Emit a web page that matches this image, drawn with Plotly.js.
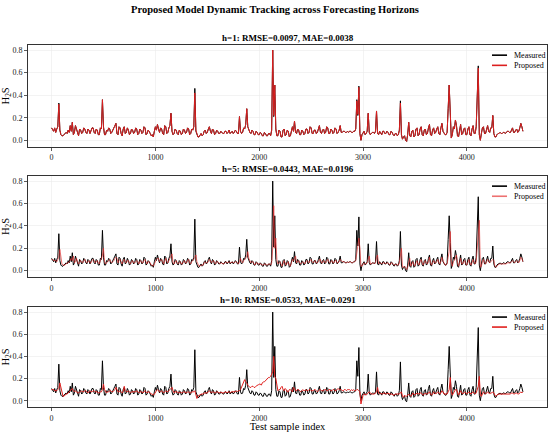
<!DOCTYPE html>
<html>
<head>
<meta charset="utf-8">
<script src="https://cdn.plot.ly/plotly-3.0.1.min.js"></script>
<style>html,body{margin:0;padding:0;background:#fff;}#chart{width:550px;height:432px;}</style>
</head>
<body>
<div id="chart"></div>
<script>
// Readings stored for every 10th test sample
const sampleStep = 10;

const measured = [
0.11,0.09,0.08,0.11,0.07,0.10,0.12,0.33,0.09,0.05,0.04,0.04,0.05,0.06,0.07,0.06,0.09,0.07,0.13,0.08,
0.16,0.05,0.07,0.13,0.10,0.05,0.04,0.10,0.09,0.06,0.07,0.11,0.10,0.07,0.06,0.10,0.09,0.06,0.08,0.11,
0.11,0.07,0.06,0.10,0.09,0.05,0.05,0.11,0.10,0.36,0.12,0.05,0.05,0.09,0.08,0.11,0.10,0.06,0.07,0.10,
0.11,0.13,0.15,0.06,0.05,0.12,0.11,0.06,0.04,0.10,0.12,0.06,0.07,0.11,0.09,0.05,0.06,0.10,0.09,0.06,
0.07,0.11,0.10,0.05,0.06,0.10,0.09,0.06,0.07,0.12,0.11,0.05,0.06,0.09,0.08,0.06,0.04,0.05,0.03,0.08,
0.12,0.09,0.14,0.10,0.07,0.11,0.10,0.06,0.05,0.13,0.12,0.06,0.07,0.11,0.13,0.24,0.08,0.05,0.06,0.10,
0.09,0.06,0.05,0.09,0.08,0.05,0.06,0.10,0.09,0.06,0.07,0.11,0.10,0.05,0.06,0.10,0.09,0.12,0.46,0.08,
0.05,0.03,0.03,0.05,0.06,0.04,0.05,0.08,0.09,0.06,0.07,0.10,0.12,0.08,0.06,0.10,0.09,0.05,0.06,0.09,
0.08,0.06,0.06,0.08,0.07,0.06,0.06,0.08,0.08,0.06,0.07,0.09,0.06,0.07,0.08,0.06,0.07,0.09,0.08,0.06,
0.06,0.21,0.08,0.06,0.07,0.11,0.10,0.14,0.28,0.12,0.09,0.07,0.06,0.09,0.08,0.05,0.05,0.08,0.07,0.05,
0.05,0.07,0.06,0.04,0.04,0.07,0.06,0.04,0.04,0.06,0.06,0.04,0.09,0.80,0.21,0.49,0.10,0.04,0.04,0.09,
0.08,0.03,0.03,0.09,0.10,0.04,0.05,0.09,0.08,0.03,0.04,0.10,0.12,0.08,0.17,0.07,0.06,0.10,0.09,0.05,
0.05,0.09,0.08,0.05,0.06,0.10,0.10,0.06,0.07,0.12,0.11,0.06,0.06,0.09,0.09,0.06,0.07,0.10,0.13,0.07,
0.06,0.09,0.10,0.06,0.07,0.12,0.11,0.06,0.06,0.10,0.09,0.06,0.07,0.11,0.10,0.06,0.07,0.09,0.13,0.07,
0.07,0.08,0.08,0.07,0.07,0.08,0.07,0.08,0.08,0.07,0.07,0.08,0.08,0.10,0.36,0.22,0.48,0.06,0.00,0.05,
0.07,0.08,0.05,0.06,0.08,0.24,0.07,0.05,0.06,0.07,0.07,0.06,0.08,0.26,0.06,0.05,0.08,0.06,0.05,0.08,
0.08,0.06,0.06,0.08,0.07,0.05,0.05,0.08,0.07,0.05,0.04,0.06,0.06,0.04,0.05,0.09,0.35,0.05,0.01,0.03,
0.04,0.00,-0.01,0.05,0.16,0.04,0.03,0.08,0.09,0.03,0.04,0.10,0.11,0.04,0.05,0.10,0.12,0.05,0.04,0.09,
0.10,0.05,0.06,0.11,0.14,0.05,0.04,0.09,0.11,0.06,0.07,0.10,0.12,0.06,0.05,0.11,0.15,0.08,0.06,0.05,
0.05,0.07,0.28,0.49,0.25,0.02,0.05,0.12,0.10,0.18,0.13,0.04,0.03,0.09,0.14,0.05,0.06,0.10,0.11,0.05,
0.05,0.10,0.12,0.05,0.04,0.10,0.13,0.06,0.06,0.12,0.54,0.66,0.05,0.00,0.06,0.11,0.12,0.06,0.06,0.11,
0.13,0.08,0.07,0.11,0.11,0.22,0.06,0.03,0.03,0.05,0.06,0.06,0.07,0.06,0.06,0.07,0.07,0.06,0.07,0.08,
0.08,0.07,0.07,0.09,0.11,0.07,0.07,0.09,0.10,0.07,0.08,0.11,0.15,0.12,0.08
];

const proposedH1 = [
0.11,0.09,0.08,0.11,0.07,0.10,0.12,0.32,0.09,0.05,0.04,0.04,0.05,0.06,0.07,0.06,0.09,0.07,0.13,0.08,
0.16,0.05,0.07,0.13,0.10,0.05,0.04,0.10,0.09,0.06,0.07,0.11,0.10,0.07,0.06,0.10,0.09,0.06,0.08,0.11,
0.11,0.07,0.06,0.10,0.09,0.05,0.05,0.11,0.10,0.36,0.12,0.05,0.05,0.09,0.08,0.11,0.10,0.06,0.07,0.10,
0.11,0.13,0.15,0.06,0.05,0.12,0.11,0.06,0.04,0.10,0.12,0.06,0.07,0.11,0.09,0.05,0.06,0.10,0.09,0.06,
0.07,0.11,0.10,0.05,0.06,0.10,0.09,0.06,0.07,0.12,0.11,0.05,0.06,0.09,0.08,0.06,0.04,0.05,0.03,0.08,
0.12,0.09,0.14,0.10,0.07,0.11,0.10,0.06,0.05,0.13,0.12,0.06,0.07,0.11,0.13,0.24,0.08,0.05,0.06,0.10,
0.09,0.06,0.05,0.09,0.08,0.05,0.06,0.10,0.09,0.06,0.07,0.11,0.10,0.05,0.06,0.10,0.09,0.12,0.42,0.09,
0.05,0.03,0.03,0.05,0.06,0.04,0.05,0.08,0.09,0.06,0.07,0.10,0.12,0.08,0.06,0.10,0.09,0.05,0.06,0.09,
0.08,0.06,0.06,0.08,0.07,0.06,0.06,0.08,0.08,0.06,0.07,0.09,0.06,0.07,0.08,0.06,0.07,0.09,0.08,0.06,
0.06,0.21,0.08,0.06,0.07,0.11,0.10,0.14,0.28,0.12,0.09,0.07,0.06,0.09,0.08,0.05,0.05,0.08,0.07,0.05,
0.05,0.07,0.06,0.04,0.04,0.07,0.06,0.04,0.04,0.06,0.06,0.04,0.09,0.80,0.22,0.49,0.10,0.04,0.04,0.09,
0.08,0.03,0.03,0.09,0.10,0.04,0.05,0.09,0.08,0.03,0.04,0.10,0.12,0.08,0.17,0.07,0.06,0.10,0.09,0.05,
0.05,0.09,0.08,0.05,0.06,0.10,0.10,0.06,0.07,0.12,0.11,0.06,0.06,0.09,0.09,0.06,0.07,0.10,0.13,0.07,
0.06,0.09,0.10,0.06,0.07,0.12,0.11,0.06,0.06,0.10,0.09,0.06,0.07,0.11,0.10,0.06,0.07,0.09,0.13,0.07,
0.07,0.08,0.08,0.07,0.07,0.08,0.07,0.08,0.08,0.07,0.07,0.08,0.08,0.10,0.35,0.23,0.47,0.06,0.00,0.05,
0.07,0.08,0.05,0.06,0.08,0.24,0.07,0.05,0.06,0.07,0.07,0.06,0.08,0.26,0.06,0.05,0.08,0.06,0.05,0.08,
0.08,0.06,0.06,0.08,0.07,0.05,0.05,0.08,0.07,0.05,0.04,0.06,0.06,0.04,0.05,0.09,0.33,0.05,0.01,0.03,
0.04,0.00,-0.01,0.05,0.16,0.04,0.03,0.08,0.09,0.03,0.04,0.10,0.11,0.04,0.05,0.10,0.12,0.05,0.04,0.09,
0.10,0.05,0.06,0.11,0.14,0.05,0.04,0.09,0.11,0.06,0.07,0.10,0.12,0.06,0.05,0.11,0.15,0.08,0.06,0.05,
0.05,0.07,0.28,0.49,0.25,0.02,0.05,0.12,0.10,0.18,0.13,0.04,0.03,0.09,0.14,0.05,0.06,0.10,0.11,0.05,
0.05,0.10,0.12,0.05,0.04,0.10,0.13,0.06,0.06,0.12,0.52,0.64,0.05,0.00,0.06,0.11,0.12,0.06,0.06,0.11,
0.13,0.08,0.07,0.11,0.11,0.22,0.06,0.03,0.03,0.05,0.06,0.06,0.07,0.06,0.06,0.07,0.07,0.06,0.07,0.08,
0.08,0.07,0.07,0.09,0.11,0.07,0.07,0.09,0.10,0.07,0.08,0.11,0.15,0.12,0.08
];

const proposedH5 = [
0.10,0.10,0.09,0.09,0.09,0.08,0.10,0.12,0.19,0.10,0.06,0.05,0.05,0.05,0.06,0.07,0.07,0.08,0.09,0.11,
0.09,0.13,0.07,0.08,0.11,0.08,0.06,0.07,0.09,0.08,0.07,0.09,0.10,0.08,0.07,0.08,0.09,0.07,0.07,0.09,
0.10,0.09,0.07,0.08,0.09,0.07,0.06,0.09,0.10,0.14,0.20,0.08,0.06,0.07,0.08,0.09,0.10,0.08,0.07,0.08,
0.09,0.11,0.12,0.11,0.07,0.09,0.10,0.08,0.06,0.08,0.10,0.08,0.07,0.09,0.09,0.07,0.06,0.08,0.09,0.07,
0.07,0.08,0.09,0.08,0.06,0.08,0.09,0.07,0.07,0.09,0.10,0.08,0.06,0.08,0.08,0.07,0.05,0.05,0.04,0.06,
0.09,0.10,0.11,0.11,0.08,0.09,0.10,0.08,0.06,0.09,0.11,0.08,0.07,0.09,0.11,0.13,0.15,0.07,0.06,0.08,
0.09,0.07,0.06,0.07,0.08,0.06,0.06,0.08,0.09,0.07,0.07,0.09,0.10,0.07,0.06,0.08,0.09,0.10,0.12,0.14,
0.08,0.05,0.04,0.04,0.05,0.05,0.05,0.07,0.08,0.07,0.07,0.08,0.10,0.09,0.07,0.08,0.09,0.07,0.06,0.08,
0.08,0.07,0.06,0.07,0.07,0.06,0.06,0.07,0.08,0.07,0.07,0.08,0.07,0.07,0.08,0.07,0.07,0.08,0.08,0.07,
0.06,0.08,0.11,0.08,0.07,0.09,0.10,0.11,0.13,0.17,0.11,0.08,0.07,0.08,0.08,0.06,0.05,0.07,0.07,0.06,
0.06,0.06,0.06,0.05,0.05,0.06,0.06,0.05,0.05,0.06,0.06,0.05,0.07,0.20,0.58,0.20,0.29,0.10,0.06,0.07,
0.08,0.06,0.04,0.06,0.09,0.07,0.05,0.07,0.08,0.05,0.04,0.07,0.10,0.09,0.11,0.13,0.07,0.08,0.09,0.07,
0.06,0.07,0.08,0.07,0.06,0.08,0.09,0.08,0.07,0.09,0.10,0.08,0.07,0.08,0.09,0.07,0.07,0.08,0.10,0.10,
0.07,0.07,0.09,0.08,0.07,0.09,0.10,0.08,0.07,0.08,0.09,0.07,0.07,0.09,0.09,0.07,0.07,0.08,0.10,0.09,
0.08,0.08,0.08,0.07,0.07,0.08,0.07,0.08,0.08,0.07,0.07,0.08,0.08,0.09,0.15,0.22,0.29,0.20,0.04,0.04,
0.06,0.07,0.06,0.06,0.07,0.10,0.13,0.06,0.06,0.07,0.07,0.06,0.07,0.12,0.14,0.06,0.07,0.07,0.06,0.07,
0.07,0.07,0.06,0.07,0.07,0.06,0.05,0.07,0.07,0.06,0.05,0.05,0.06,0.05,0.05,0.07,0.14,0.20,0.03,0.03,
0.04,0.02,0.01,0.03,0.08,0.11,0.04,0.06,0.08,0.05,0.04,0.07,0.09,0.06,0.05,0.08,0.10,0.07,0.05,0.07,
0.09,0.07,0.06,0.08,0.12,0.07,0.05,0.07,0.09,0.07,0.07,0.08,0.10,0.07,0.06,0.08,0.12,0.09,0.07,0.05,
0.05,0.06,0.12,0.17,0.35,0.08,0.04,0.08,0.09,0.12,0.14,0.07,0.04,0.07,0.11,0.06,0.06,0.08,0.09,0.06,
0.05,0.07,0.10,0.07,0.05,0.07,0.10,0.08,0.06,0.08,0.20,0.33,0.45,0.03,0.04,0.08,0.10,0.07,0.06,0.08,
0.10,0.09,0.07,0.08,0.09,0.10,0.09,0.04,0.03,0.04,0.05,0.06,0.06,0.06,0.06,0.06,0.06,0.06,0.06,0.07,
0.07,0.07,0.07,0.08,0.09,0.08,0.07,0.08,0.09,0.08,0.07,0.09,0.12,0.11,0.08
];

const proposedH10 = [
0.10,0.10,0.10,0.09,0.09,0.09,0.10,0.11,0.16,0.11,0.06,0.04,0.04,0.05,0.06,0.06,0.07,0.08,0.09,0.10,
0.11,0.09,0.08,0.09,0.08,0.07,0.07,0.08,0.08,0.09,0.08,0.08,0.09,0.09,0.08,0.07,0.08,0.09,0.08,0.08,
0.09,0.09,0.08,0.08,0.08,0.07,0.07,0.08,0.08,0.10,0.15,0.10,0.08,0.07,0.08,0.08,0.09,0.09,0.08,0.08,
0.09,0.10,0.12,0.10,0.08,0.08,0.09,0.08,0.07,0.08,0.13,0.09,0.08,0.08,0.09,0.08,0.07,0.08,0.08,0.08,
0.08,0.08,0.09,0.08,0.07,0.08,0.08,0.08,0.07,0.08,0.09,0.08,0.07,0.08,0.08,0.07,0.06,0.06,0.05,0.06,
0.08,0.09,0.10,0.09,0.08,0.08,0.09,0.08,0.07,0.08,0.09,0.08,0.08,0.09,0.10,0.11,0.12,0.09,0.07,0.08,
0.08,0.08,0.07,0.07,0.08,0.07,0.07,0.08,0.08,0.07,0.07,0.08,0.08,0.07,0.07,0.08,0.08,0.08,0.09,0.05,
0.02,0.04,0.05,0.05,0.06,0.06,0.06,0.07,0.07,0.07,0.07,0.08,0.09,0.08,0.07,0.08,0.08,0.07,0.07,0.08,
0.08,0.07,0.07,0.08,0.07,0.07,0.07,0.08,0.08,0.07,0.08,0.08,0.07,0.08,0.08,0.08,0.08,0.08,0.09,0.08,
0.09,0.09,0.10,0.12,0.14,0.17,0.19,0.17,0.16,0.14,0.13,0.12,0.12,0.13,0.13,0.12,0.12,0.13,0.14,0.14,
0.15,0.15,0.14,0.16,0.17,0.17,0.18,0.19,0.20,0.21,0.21,0.22,0.24,0.26,0.40,0.22,0.20,0.12,0.09,0.10,
0.10,0.12,0.13,0.10,0.09,0.11,0.10,0.08,0.08,0.10,0.10,0.09,0.08,0.12,0.11,0.09,0.09,0.10,0.10,0.09,
0.08,0.09,0.10,0.09,0.09,0.10,0.09,0.09,0.10,0.10,0.09,0.09,0.09,0.10,0.10,0.09,0.08,0.09,0.10,0.10,
0.09,0.09,0.09,0.10,0.10,0.09,0.09,0.10,0.10,0.09,0.09,0.10,0.10,0.09,0.09,0.10,0.11,0.10,0.10,0.10,
0.09,0.09,0.10,0.10,0.09,0.10,0.10,0.10,0.09,0.10,0.09,0.10,0.09,0.09,0.10,0.10,0.09,0.08,-0.03,0.03,
0.05,0.06,0.06,0.05,0.06,0.07,0.08,0.07,0.06,0.06,0.06,0.06,0.07,0.08,0.12,0.07,0.06,0.07,0.06,0.06,
0.07,0.07,0.06,0.06,0.07,0.06,0.06,0.06,0.06,0.05,0.05,0.06,0.06,0.06,0.06,0.06,0.07,0.08,0.04,0.03,
0.05,0.04,0.04,0.05,0.06,0.05,0.04,0.05,0.07,0.06,0.05,0.06,0.07,0.06,0.06,0.07,0.07,0.06,0.05,0.06,
0.07,0.06,0.06,0.07,0.08,0.06,0.05,0.06,0.08,0.07,0.06,0.07,0.08,0.07,0.06,0.07,0.09,0.08,0.06,0.06,
0.06,0.06,0.08,0.10,0.21,0.08,0.05,0.07,0.09,0.10,0.10,0.06,0.05,0.07,0.09,0.07,0.06,0.07,0.08,0.07,
0.06,0.07,0.08,0.07,0.06,0.07,0.08,0.07,0.06,0.07,0.10,0.13,0.22,0.05,0.04,0.07,0.08,0.07,0.06,0.07,
0.08,0.07,0.06,0.07,0.07,0.08,0.07,0.05,0.04,0.05,0.06,0.06,0.06,0.06,0.06,0.06,0.06,0.06,0.06,0.06,
0.06,0.06,0.06,0.07,0.07,0.06,0.06,0.07,0.07,0.06,0.06,0.07,0.08,0.07,0.08
];

const panelTitles = [
  "h=1: RMSE=0.0097, MAE=0.0038",
  "h=5: RMSE=0.0443, MAE=0.0196",
  "h=10: RMSE=0.0533, MAE=0.0291"
];
const seriesNames = ["Measured", "Proposed"];
const xTickVals = [0, 1000, 2000, 3000, 4000];
const yTickVals = [0.0, 0.2, 0.4, 0.6, 0.8];
const yTickText = ["0.0", "0.2", "0.4", "0.6", "0.8"];

const sampleIndex = measured.map((_, i) => i * sampleStep);
const proposedSets = [proposedH1, proposedH5, proposedH10];
const measuredColor = "#000000";
const proposedColors = ["#dc1f1f", "rgba(228,45,45,0.68)", "#e0201e"];

const SERIF = "Liberation Serif, Times New Roman, serif";
const domains = [[0.719, 1.0], [0.359, 0.638], [0.0, 0.276]];

const traces = [];
proposedSets.forEach((p, k) => {
  const ax = k === 0 ? "" : String(k + 1);
  traces.push({
    x: sampleIndex, y: measured, type: "scatter", mode: "lines",
    name: seriesNames[0], xaxis: "x" + ax, yaxis: "y" + ax, showlegend: false,
    line: {color: measuredColor, width: 1.0}
  });
  traces.push({
    x: sampleIndex, y: p, type: "scatter", mode: "lines",
    name: seriesNames[1], xaxis: "x" + ax, yaxis: "y" + ax, showlegend: false,
    line: {color: proposedColors[k], width: 1.0}
  });
});

const layout = {
  width: 550, height: 432,
  margin: {l: 28, r: 3, t: 45, b: 25},
  paper_bgcolor: "#fff", plot_bgcolor: "#fff",
  font: {family: SERIF, color: "#000"},
  showlegend: false,
  title: {
    text: "<b>Proposed Model Dynamic Tracking across Forecasting Horizons</b>",
    font: {family: SERIF, size: 10.5, color: "#000"},
    x: 0.5, xref: "container", y: 0.978, yref: "container", yanchor: "middle"
  },
  annotations: [],
  shapes: [],
  hovermode: false
};

// legend key geometry (fractions of each panel's axis domain)
const keyX0 = 0.894, keyX1 = 0.923, keyTextX = 0.932;
const keyRows = [0.90, 0.80];

for (let k = 0; k < 3; k++) {
  const ax = k === 0 ? "" : String(k + 1);
  const xa = {
    domain: [0, 1], anchor: "y" + ax,
    range: [-227, 4772],
    tickvals: xTickVals, ticktext: xTickVals.map(String),
    showgrid: true, gridcolor: "#ebebeb", gridwidth: 0.6,
    zeroline: false,
    showline: true, mirror: true, linecolor: "#333333", linewidth: 1,
    ticks: "outside", ticklen: 3, tickcolor: "#333333", tickwidth: 0.8,
    tickfont: {family: SERIF, size: 8, color: "#1a1a1a"}
  };
  if (k === 2) {
    xa.title = {text: "Test sample index", font: {family: SERIF, size: 10.5, color: "#000"}, standoff: 5};
  }
  const ya = {
    domain: domains[k], anchor: "x" + ax,
    range: [-0.057, 0.845],
    tickvals: yTickVals, ticktext: yTickText,
    showgrid: true, gridcolor: "#ebebeb", gridwidth: 0.6,
    zeroline: false,
    showline: true, mirror: true, linecolor: "#333333", linewidth: 1,
    ticks: "outside", ticklen: 3, tickcolor: "#333333", tickwidth: 0.8,
    tickfont: {family: SERIF, size: 8, color: "#1a1a1a"},
    title: {text: "H<sub>2</sub>S", font: {family: SERIF, size: 10.5, color: "#000"}, standoff: 2}
  };
  layout["xaxis" + ax] = xa;
  layout["yaxis" + ax] = ya;
  layout.annotations.push({
    text: "<b>" + panelTitles[k] + "</b>",
    xref: "paper", yref: "paper", x: 0.5, y: domains[k][1],
    xanchor: "center", yanchor: "bottom", yshift: 0, showarrow: false,
    font: {family: SERIF, size: 9, color: "#000"}
  });
  // legend keys
  const keyColors = [measuredColor, proposedColors[k]];
  for (let j = 0; j < 2; j++) {
    layout.shapes.push({
      type: "line", xref: "x" + ax + " domain", yref: "y" + ax + " domain",
      x0: keyX0, x1: keyX1, y0: keyRows[j], y1: keyRows[j],
      line: {color: keyColors[j], width: 1.6}
    });
    layout.annotations.push({
      text: seriesNames[j], xref: "x" + ax + " domain", yref: "y" + ax + " domain",
      x: keyTextX, y: keyRows[j], xanchor: "left", yanchor: "middle", showarrow: false,
      font: {family: SERIF, size: 8, color: "#000"}
    });
  }
}

Plotly.newPlot("chart", traces, layout, {displayModeBar: false, staticPlot: true});
</script>
</body>
</html>
